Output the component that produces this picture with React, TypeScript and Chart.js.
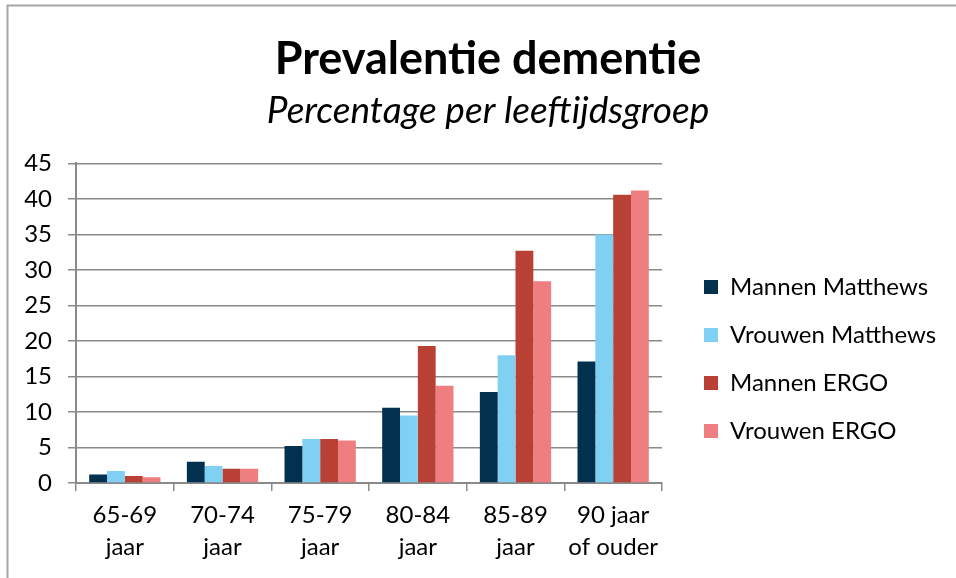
import React, { useEffect, useRef } from "react";
import { Chart, registerables } from "chart.js";

Chart.register(...registerables);

const categories: string[][] = [
  ["65-69", "jaar"],
  ["70-74", "jaar"],
  ["75-79", "jaar"],
  ["80-84", "jaar"],
  ["85-89", "jaar"],
  ["90 jaar", "of ouder"],
];
const mannenMatthews = [1.2, 3.0, 5.2, 10.6, 12.8, 17.1];
const vrouwenMatthews = [1.7, 2.4, 6.2, 9.5, 18.0, 35.0];
const mannenErgo = [1.0, 2.0, 6.2, 19.3, 32.7, 40.6];
const vrouwenErgo = [0.8, 2.0, 6.0, 13.7, 28.4, 41.2];
const seriesNames = ["Mannen Matthews", "Vrouwen Matthews", "Mannen ERGO", "Vrouwen ERGO"];
const seriesColors = ["#01314F", "#80D0F4", "#B94034", "#EE7E80"];
const yTicks = [0, 5, 10, 15, 20, 25, 30, 35, 40, 45];

const FONT = "Lato";
const W = 956;
const H = 578;

export default function App() {
  const ref = useRef<HTMLCanvasElement | null>(null);

  useEffect(() => {
    if (!ref.current) return;
    const legendFont = 24;
    const mctx = document.createElement("canvas").getContext("2d")!;
    mctx.font = `${legendFont}px ${FONT}`;
    let tw = 0;
    seriesNames.forEach((n) => (tw = Math.max(tw, mctx.measureText(n).width)));
    const legendPad = 24;
    const legendLeft = 680;
    const plotRight = 662;
    const legendWidth = legendPad + 14 + legendFont / 2 + tw + 10;
    const padR = Math.max(0, W - legendLeft - legendWidth);
    const padL = 20;
    const yWidth = 76 - padL;
    const titleCenter = 488;

    const framePlugin = {
      id: "frame",
      beforeDraw(chart: any) {
        const c = chart.ctx;
        c.save();
        c.fillStyle = "#ffffff";
        c.fillRect(0, 0, W, H);
        c.strokeStyle = "#a6a6a6";
        c.lineWidth = 2;
        c.beginPath();
        c.moveTo(7.5, H);
        c.lineTo(7.5, 5.5);
        c.lineTo(W, 5.5);
        c.stroke();
        c.restore();
      },
    };

    const layoutTweak = {
      id: "layoutTweak",
      afterLayout(chart: any) {
        chart.boxes.forEach((b: any) => {
          if (b.options && typeof b.options.text === "string" && b.isHorizontal && b.isHorizontal()) {
            const cur = (b.left + b.right) / 2;
            const d = titleCenter - cur;
            b.left += d;
            b.right += d;
          }
        });
        if (chart.legend) {
          chart.legend.top += 140;
        }
      },
    };

    const data = [mannenMatthews, vrouwenMatthews, mannenErgo, vrouwenErgo];

    const chart = new Chart(ref.current, {
      type: "bar",
      data: {
        labels: categories,
        datasets: data.map((d, i) => ({
          label: seriesNames[i],
          data: d,
          backgroundColor: seriesColors[i],
          borderWidth: 0,
          categoryPercentage: 0.73,
          barPercentage: 1.0,
        })),
      },
      options: {
        responsive: false,
        animation: false,
        layout: { padding: { left: padL, right: padR, top: 0, bottom: 0 } },
        plugins: {
          title: {
            display: true,
            text: "Prevalentie dementie",
            color: "#000",
            font: { family: FONT, size: 45, weight: "bold" },
            padding: { top: 32, bottom: 3 },
          },
          subtitle: {
            display: true,
            text: "Percentage per leeftijdsgroep",
            color: "#000",
            font: { family: FONT, size: 37, style: "italic", weight: "normal" },
            padding: { top: 0, bottom: 30 },
          },
          legend: {
            position: "right",
            maxWidth: legendWidth + 2,
            labels: {
              boxWidth: 14,
              boxHeight: 14,
              padding: legendPad,
              color: "#000",
              font: { family: FONT, size: legendFont },
            },
          },
          tooltip: { enabled: false },
        },
        scales: {
          x: {
            grid: {
              display: true,
              drawOnChartArea: false,
              offset: true,
              tickLength: 8,
              color: "#8a8a8a",
              lineWidth: 1.5,
            },
            border: { display: true, color: "#8a8a8a", width: 2 },
            ticks: {
              color: "#000",
              font: { family: FONT, size: 24, lineHeight: 1.3 },
              padding: 9,
              maxRotation: 0,
              autoSkip: false,
            },
            afterFit: (s: any) => {
              s.height = 95;
            },
          },
          y: {
            min: 0,
            max: 45,
            afterBuildTicks: (s: any) => {
              s.ticks = yTicks.map((v) => ({ value: v }));
            },
            grid: { color: "#8a8a8a", lineWidth: 1.5, tickLength: 8 },
            border: { display: true, color: "#8a8a8a", width: 2 },
            ticks: {
              color: "#000",
              font: { family: FONT, size: 24 },
              padding: 16,
            },
            afterFit: (s: any) => {
              s.width = yWidth;
            },
          },
          y2: {
            position: "right",
            display: true,
            grid: { display: false },
            border: { display: false },
            ticks: { display: false },
            afterFit: (s: any) => {
              s.width = legendLeft - plotRight;
            },
          },
        },
      },
      plugins: [framePlugin, layoutTweak],
    } as any);

    return () => chart.destroy();
  }, []);

  return (
    <div style={{ position: "absolute", left: 0, top: 0, width: W, height: H }}>
      <canvas ref={ref} width={W} height={H} style={{ display: "block" }} />
    </div>
  );
}
